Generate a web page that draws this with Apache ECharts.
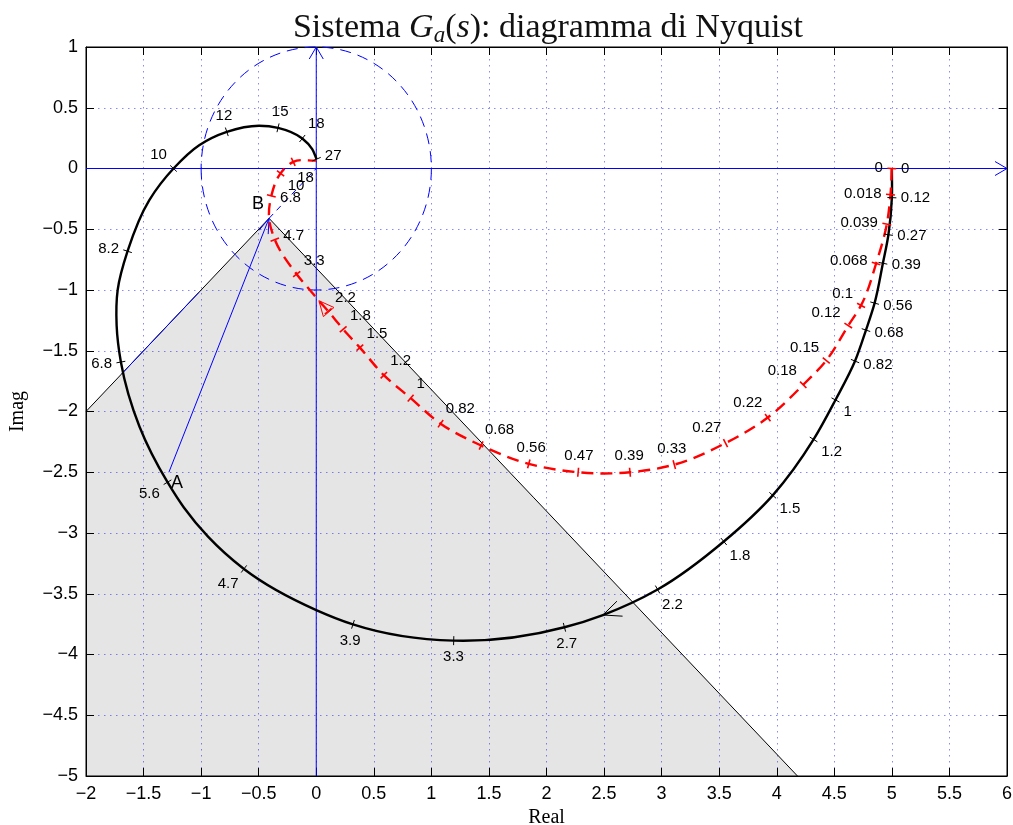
<!DOCTYPE html>
<html><head><meta charset="utf-8">
<script src="https://cdn.jsdelivr.net/npm/echarts@6/dist/echarts.min.js"></script>
<style>html,body{margin:0;padding:0;background:#fff}#c{width:1013px;height:825px}</style>
</head><body><div id="c"></div>
<script>
// ---- axes ----
const xMin = -2, xMax = 6, xStep = 0.5;
const yMin = -5, yMax = 1, yStep = 0.5;

// ---- black Nyquist curve ----
const blackRe = [5.0, 5.0, 4.97, 4.922, 4.85, 4.775, 4.68, 4.51, 4.32, 3.965, 3.54, 2.965, 2.49, 2.156, 1.194, 0.319, 0.0, -0.628, -0.94, -1.15, -1.292, -1.535, -1.697, -1.734, -1.725, -1.639, -1.45, -1.24, -1.017, -0.777, -0.497, -0.332, -0.121, -0.035, 0.003];
const blackIm = [0, -0.24, -0.545, -0.78, -1.108, -1.33, -1.585, -1.905, -2.23, -2.69, -3.07, -3.465, -3.675, -3.776, -3.886, -3.752, -3.634, -3.296, -3.03, -2.79, -2.582, -2.125, -1.593, -1.291, -1.0, -0.681, -0.26, 0, 0.192, 0.302, 0.352, 0.335, 0.247, 0.16, 0.077];
const blackW  = ['0','0.12','0.27','0.39','0.56','0.68','0.82','1','1.2','1.5','1.8','2.2','','2.7','3.3','3.9','','4.7','','','5.6','','6.8','','','8.2','','10','','12','','15','18','','27'];
const blackArrowIdx = 12;

// ---- red dashed Nyquist curve ----
const redRe = [5.0, 4.988, 4.956, 4.863, 4.732, 4.621, 4.43, 4.23, 3.922, 3.555, 3.11, 2.725, 2.5, 2.275, 1.846, 1.432, 1.08, 0.82, 0.587, 0.379, 0.234, 0.104, 0.023, -0.043, -0.17, -0.36, -0.41, -0.39, -0.31, -0.2, 0.0];
const redIm = [0, -0.215, -0.458, -0.782, -1.127, -1.293, -1.58, -1.78, -2.05, -2.26, -2.437, -2.5, -2.51, -2.5, -2.431, -2.28, -2.10, -1.89, -1.701, -1.474, -1.323, -1.175, -1.088, -1.014, -0.87, -0.585, -0.41, -0.225, -0.04, 0.055, 0.065];
const redW  = ['0','0.018','0.039','0.068','0.1','0.12','0.15','0.18','0.22','0.27','0.33','0.39','','0.47','0.56','0.68','0.82','1','1.2','1.5','1.8','2.2','','','3.3','4.7','','6.8','10','18',''];
const redArrowIdx = 22;

// ---- construction elements ----
const pointA = [-1.28, -2.5];
const pointB = [-0.41, -0.41];
const shadeRe = [-0.41, -2, -2, 4.18];
const shadeIm = [-0.41, -2.0, -5, -5];
const blueSegRe = [-1.69, -1.02];
const blueSegIm = [-1.69, -1.02];
const unitRadius = 1;

const SANS = '"Liberation Sans", Arial, sans-serif';
const SERIF = '"Liberation Serif", "Times New Roman", serif';
const fmt = v => String(v).replace('-', '\u2212');

// tangent direction at point i (pixel space), chord-length weighted
function tangent(re, im, i, api) {
  const n = re.length;
  const p = api.coord([re[i], im[i]]);
  if (i === 0 || i === n - 1) {
    const a = api.coord([re[Math.max(i-1,0)], im[Math.max(i-1,0)]]);
    const b = api.coord([re[Math.min(i+1,n-1)], im[Math.min(i+1,n-1)]]);
    let tx = b[0]-a[0], ty = b[1]-a[1]; const L = Math.hypot(tx, ty) || 1;
    return [tx/L, ty/L];
  }
  const a = api.coord([re[i-1], im[i-1]]);
  const b = api.coord([re[i+1], im[i+1]]);
  const d0 = Math.hypot(p[0]-a[0], p[1]-a[1]) || 1;
  const d1 = Math.hypot(b[0]-p[0], b[1]-p[1]) || 1;
  const w0 = d1/(d0+d1), w1 = d0/(d0+d1);
  let tx = w0*(p[0]-a[0])/d0 + w1*(b[0]-p[0])/d1;
  let ty = w0*(p[1]-a[1])/d0 + w1*(b[1]-p[1])/d1;
  const L = Math.hypot(tx, ty) || 1;
  return [tx/L, ty/L];
}

// smooth cubic path through the data points (pixel space, via the axes)
function curveSeries(re, im, style) {
  return {
    type: 'custom', coordinateSystem: 'cartesian2d', z: 5, silent: true,
    encode: {x: 0, y: 1},
    data: re.map((x, i) => [x, im[i]]),
    renderItem(params, api) {
      if (params.dataIndex !== 0) return;
      const n = re.length;
      const pts = re.map((x, i) => api.coord([x, im[i]]));
      const tg = pts.map((p, i) => tangent(re, im, i, api));
      let d = `M${pts[0][0]} ${pts[0][1]}`;
      for (let i = 0; i < n-1; i++) {
        const p = pts[i], q = pts[i+1];
        const L = Math.hypot(q[0]-p[0], q[1]-p[1]) / 3;
        const c1 = [p[0]+tg[i][0]*L, p[1]+tg[i][1]*L];
        const c2 = [q[0]-tg[i+1][0]*L, q[1]-tg[i+1][1]*L];
        d += ` C${c1[0]} ${c1[1]} ${c2[0]} ${c2[1]} ${q[0]} ${q[1]}`;
      }
      return {type: 'path', shape: {pathData: d}, style: Object.assign({fill: 'none'}, style)};
    }
  };
}

function tickSeries(re, im, labels, side, color, lw) {
  const data = [];
  labels.forEach((t, i) => { if (t !== '') data.push([re[i], im[i], i]); });
  return {
    type: 'custom', coordinateSystem: 'cartesian2d', z: 7, silent: true, clip: false,
    encode: {x: 0, y: 1}, data,
    renderItem(params, api) {
      const i = api.value(2);
      const p = api.coord([re[i], im[i]]);
      const [tx, ty] = tangent(re, im, i, api);
      const nx = side === 'left' ? ty : -ty;
      const ny = side === 'left' ? -tx : tx;
      const h = 4.5, gap = 9;
      const align = nx > 0.4 ? 'left' : (nx < -0.4 ? 'right' : 'center');
      const valign = ny > 0.4 ? 'top' : (ny < -0.4 ? 'bottom' : 'middle');
      return {type: 'group', children: [
        {type: 'line', shape: {x1: p[0]-nx*h, y1: p[1]-ny*h, x2: p[0]+nx*h, y2: p[1]+ny*h},
         style: {stroke: color, lineWidth: lw}},
        {type: 'text', style: {text: labels[i], x: p[0]+nx*gap, y: p[1]+ny*gap,
         align: align, verticalAlign: valign, fill: '#000', font: '15px ' + SANS}}
      ]};
    }
  };
}

function vHead(tip, tx, ty, len, hw, color, closed) {
  const bx = tip[0]-tx*len, by = tip[1]-ty*len;
  const nx = -ty, ny = tx;
  const pts = [[bx+nx*hw, by+ny*hw], [tip[0], tip[1]], [bx-nx*hw, by-ny*hw]];
  if (closed) return {type: 'polygon', shape: {points: pts}, style: {stroke: color, fill: 'none', lineWidth: 1}};
  return {type: 'polyline', shape: {points: pts}, style: {stroke: color, fill: 'none', lineWidth: 1}};
}

const chart = echarts.init(document.getElementById('c'), null, {renderer: 'canvas'});

const baseX = {type: 'value', min: xMin, max: xMax, interval: xStep};
const baseY = {type: 'value', min: yMin, max: yMax, interval: yStep};
const gridDots = {show: true, lineStyle: {color: 'rgba(40,40,255,0.55)', width: 1, type: [1.5, 4.5]}};

const option = {
  animation: false,
  backgroundColor: '#fff',
  grid: {left: 86, right: 6, top: 47, bottom: 49, show: true, borderColor: '#000', borderWidth: 1,
         backgroundColor: 'transparent', containLabel: false, outerBoundsMode: 'none'},
  graphic: [{
    type: 'text', x: 548, y: 9, z: 100,
    style: {
      text: 'Sistema {i|G}{sub|a}({i|s}): diagramma di Nyquist',
      align: 'center', verticalAlign: 'top', fill: '#111',
      font: '34px ' + SERIF, lineHeight: 38,
      rich: {
        i: {fontStyle: 'italic', fontSize: 34, fontFamily: SERIF, lineHeight: 38},
        sub: {fontStyle: 'italic', fontSize: 23, fontFamily: SERIF, lineHeight: 15, verticalAlign: 'bottom'}
      }
    }
  }],
  xAxis: [
    Object.assign({}, baseX, {
      position: 'bottom',
      name: 'Real', nameLocation: 'middle', nameGap: 32,
      nameTextStyle: {fontFamily: SERIF, fontSize: 20, color: '#000'},
      axisLine: {show: true, onZero: false, lineStyle: {color: '#000', width: 1}},
      axisTick: {show: true, inside: true, length: 8, lineStyle: {color: '#000'}},
      axisLabel: {formatter: fmt, color: '#000', fontFamily: SANS, fontSize: 18, margin: 9},
      splitLine: gridDots
    }),
    Object.assign({}, baseX, {
      position: 'top',
      axisLine: {show: true, onZero: false, lineStyle: {color: '#000', width: 1}},
      axisTick: {show: true, inside: true, length: 8, lineStyle: {color: '#000'}},
      axisLabel: {show: false}, splitLine: {show: false}
    })
  ],
  yAxis: [
    Object.assign({}, baseY, {
      position: 'left',
      name: 'Imag', nameLocation: 'middle', nameGap: 58, nameRotate: 90,
      nameTextStyle: {fontFamily: SERIF, fontSize: 20, color: '#000'},
      axisLine: {show: true, onZero: false, lineStyle: {color: '#000', width: 1}},
      axisTick: {show: true, inside: true, length: 8, lineStyle: {color: '#000'}},
      axisLabel: {formatter: fmt, color: '#000', fontFamily: SANS, fontSize: 18, margin: 8},
      splitLine: gridDots
    }),
    Object.assign({}, baseY, {
      position: 'right',
      axisLine: {show: true, onZero: false, lineStyle: {color: '#000', width: 1}},
      axisTick: {show: true, inside: true, length: 8, lineStyle: {color: '#000'}},
      axisLabel: {show: false}, splitLine: {show: false}
    })
  ],
  series: [
    // shaded region
    {
      type: 'custom', coordinateSystem: 'cartesian2d', z: 1, silent: true,
      data: shadeRe.map((x, i) => [x, shadeIm[i]]),
      renderItem(params, api) {
        if (params.dataIndex !== 0) return;
        const pts = shadeRe.map((x, i) => api.coord([x, shadeIm[i]]));
        return {type: 'group', children: [
          {type: 'polygon', shape: {points: pts}, style: {fill: 'rgba(0,0,0,0.102)', stroke: 'none'}},
          {type: 'polyline', shape: {points: [pts[1], pts[0], pts[3]]}, style: {stroke: '#000', lineWidth: 1, fill: 'none'}}
        ]};
      }
    },
    // blue construction: axes through origin, unit circle, dashed line, arrow A->B
    {
      type: 'custom', coordinateSystem: 'cartesian2d', z: 3, silent: true, clip: false,
      data: [[0, 0]],
      renderItem(params, api) {
        const o = api.coord([0, 0]);
        const xl = api.coord([xMin, 0]), xr = api.coord([xMax, 0]);
        const yb = api.coord([0, yMin]), yt = api.coord([0, yMax]);
        const rx = api.coord([unitRadius, 0])[0] - o[0];
        const ry = o[1] - api.coord([0, unitRadius])[1];
        const A = api.coord(pointA), B = api.coord(pointB);
        const s1 = api.coord([blueSegRe[0], blueSegIm[0]]), s2 = api.coord([blueSegRe[1], blueSegIm[1]]);
        let dx = B[0]-A[0], dy = B[1]-A[1]; const L = Math.hypot(dx, dy); dx /= L; dy /= L;
        const blue = '#0000ff';
        return {type: 'group', children: [
          {type: 'line', shape: {x1: xl[0], y1: xl[1], x2: xr[0], y2: xr[1]}, style: {stroke: blue, lineWidth: 1}},
          {type: 'line', shape: {x1: yb[0], y1: yb[1], x2: yt[0], y2: yt[1]}, style: {stroke: blue, lineWidth: 1}},
          vHead(xr, 1, 0, 12, 7, blue, false),
          vHead(yt, 0, -1, 12, 7, blue, false),
          {type: 'path', shape: {pathData: `M${o[0]-rx} ${o[1]} A${rx} ${ry} 0 1 0 ${o[0]+rx} ${o[1]} A${rx} ${ry} 0 1 0 ${o[0]-rx} ${o[1]} Z`},
           style: {stroke: blue, fill: 'none', lineWidth: 1, lineDash: [11, 7]}},
          {type: 'line', shape: {x1: B[0], y1: B[1], x2: o[0], y2: o[1]}, style: {stroke: blue, lineWidth: 1, lineDash: [6, 5]}},
          {type: 'line', shape: {x1: s1[0], y1: s1[1], x2: s2[0], y2: s2[1]}, style: {stroke: blue, lineWidth: 1}},
          {type: 'line', shape: {x1: A[0], y1: A[1], x2: B[0], y2: B[1]}, style: {stroke: blue, lineWidth: 1}},
          vHead(B, dx, dy, 15, 5, blue, false)
        ]};
      }
    },
    curveSeries(blackRe, blackIm, {stroke: '#000', lineWidth: 2.4}),
    curveSeries(redRe, redIm, {stroke: '#ff0000', lineWidth: 2.4, lineDash: [12, 7]}),
    tickSeries(blackRe, blackIm, blackW, 'left', '#000', 1),
    tickSeries(redRe, redIm, redW, 'right', '#ff0000', 1.6),
    // curve arrows
    {
      type: 'custom', coordinateSystem: 'cartesian2d', z: 8, silent: true, clip: false,
      data: [[0, 0]],
      renderItem(params, api) {
        const pb = api.coord([blackRe[blackArrowIdx], blackIm[blackArrowIdx]]);
        const tb = tangent(blackRe, blackIm, blackArrowIdx, api);
        const pr = api.coord([redRe[redArrowIdx], redIm[redArrowIdx]]);
        const tr = tangent(redRe, redIm, redArrowIdx, api);
        return {type: 'group', children: [
          vHead(pb, tb[0], tb[1], 18, 8, '#000', false),
          vHead(pr, tr[0], tr[1], 15, 7, '#ff0000', true)
        ]};
      }
    },
    // A and B labels
    {
      type: 'custom', coordinateSystem: 'cartesian2d', z: 9, silent: true, clip: false,
      data: [[0, 0]],
      renderItem(params, api) {
        const A = api.coord(pointA), B = api.coord(pointB);
        return {type: 'group', children: [
          {type: 'text', style: {text: 'A', x: A[0]+2, y: A[1]+11, align: 'left', verticalAlign: 'middle', fill: '#000', font: '18px ' + SANS}},
          {type: 'text', style: {text: 'B', x: B[0]-5, y: B[1]-14, align: 'right', verticalAlign: 'middle', fill: '#000', font: '18px ' + SANS}}
        ]};
      }
    }
  ]
};
chart.setOption(option);
</script>
</body></html>
